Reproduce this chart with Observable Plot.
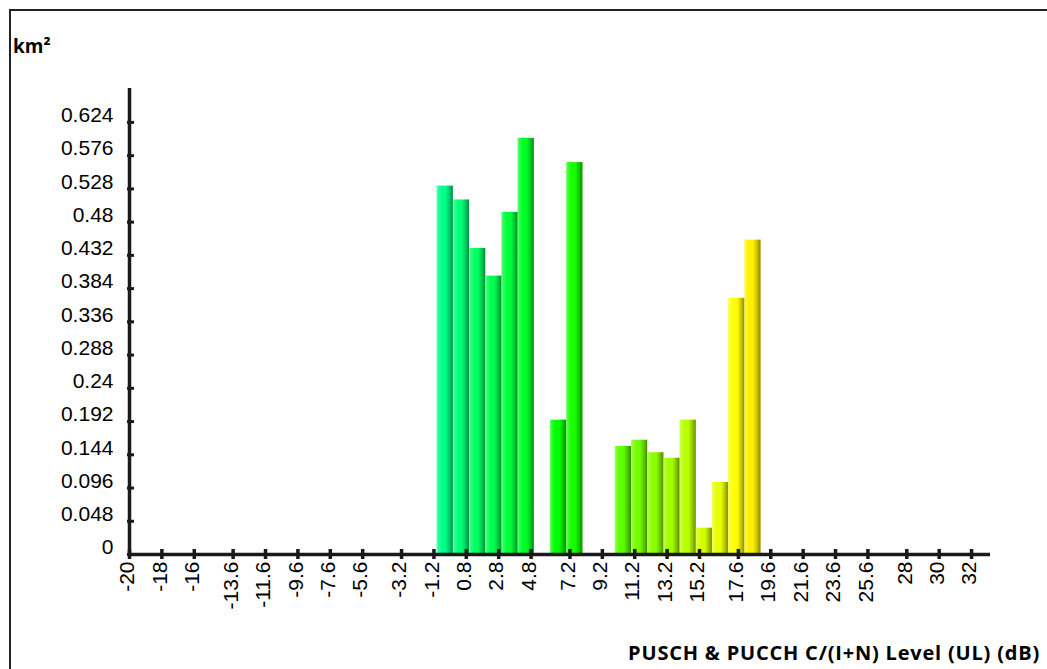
<!DOCTYPE html>
<html>
<head>
<meta charset="utf-8">
<script src="https://cdn.jsdelivr.net/npm/d3@7"></script>
<script src="https://cdn.jsdelivr.net/npm/@observablehq/plot@0.6"></script>
<style>
  html, body { margin: 0; padding: 0; background: #fff; }
  #wrap { position: relative; width: 1047px; height: 669px; overflow: hidden; }
  #frame { position: absolute; left: 9px; top: 9px; width: 1200px; height: 800px; border-left: 2px solid #222; border-top: 2px solid #222; }
  #unit { position: absolute; left: 13px; top: 33px; font: bold 19px "Open Sans", "Noto Sans", sans-serif; color: #000; }
  #xlabel { position: absolute; right: 7px; top: 639px; font: bold 20px "Open Sans", "Noto Sans", sans-serif; letter-spacing: 0.8px; color: #000; white-space: nowrap; }
  #chart { position: absolute; left: 0; top: 0; }
</style>
</head>
<body>
<div id="wrap">
  <div id="frame"></div>
  <div id="chart"></div>
  <div id="unit">km²</div>
  <div id="xlabel">PUSCH &amp; PUCCH C/(I+N) Level (UL) (dB)</div>
</div>
<script>
// Bin start (dB) of each bar; each bin is 1 dB wide
const bins = [-1, 0, 1, 2, 3, 4, 6, 7, 10, 11, 12, 13, 14, 15, 16, 17, 18];
// Area (km²) per bin
const areas = [0.532, 0.512, 0.442, 0.402, 0.494, 0.601, 0.194, 0.566, 0.156, 0.165, 0.147, 0.139, 0.194, 0.038, 0.104, 0.370, 0.454];
// Axis tick labels
const xTickLabels = ["-20","-18","-16","-13.6","-11.6","-9.6","-7.6","-5.6","-3.2","-1.2","0.8","2.8","4.8","7.2","9.2","11.2","13.2","15.2","17.6","19.6","21.6","23.6","25.6","28","30","32"];
const yTickLabels = ["0","0.048","0.096","0.144","0.192","0.24","0.288","0.336","0.384","0.432","0.48","0.528","0.576","0.624"];

const data = bins.map((b, i) => ({bin: b, area: areas[i]}));
const xTicks = xTickLabels.map(s => ({v: +s, label: s}));
const yTicks = yTickLabels.map(s => ({v: +s, label: s}));

const xMin = -20, xMax = 33.17, yMax = 0.673;
const colorOf = d3.scaleLinear()
  .domain([-1, 6, 17, 18])
  .range(["#00ff88", "#00ff00", "#ffff00", "#fff000"])
  .interpolate(d3.interpolateRgb);

const axisColor = "#1a1a1a";
const tickFont = '"Liberation Sans", Arial, sans-serif';

const plot = Plot.plot({
  width: 1047,
  height: 669,
  marginLeft: 129,
  marginRight: 57,
  marginTop: 88,
  marginBottom: 115,
  x: {type: "linear", domain: [xMin, xMax], axis: null},
  y: {type: "linear", domain: [0, yMax], axis: null},
  style: {fontFamily: tickFont, background: "transparent"},
  marks: [
    Plot.rectY(data, {x1: "bin", x2: d => d.bin + 1, y: "area", fill: d => colorOf(d.bin)}),
    Plot.rectY(data, {x1: "bin", x2: d => d.bin + 1, y: "area", fill: "url(#barShade)"}),
    Plot.ruleY([0], {x1: xMin, x2: xMax, stroke: axisColor, strokeWidth: 3.5}),
    Plot.ruleX([xMin], {y1: 0, y2: yMax, stroke: axisColor, strokeWidth: 3.5}),
    Plot.ruleX(xTicks, {x: "v", y1: 0, y2: 0, insetTop: -5, insetBottom: -5, stroke: axisColor, strokeWidth: 3.5}),
    Plot.ruleY(yTicks, {y: "v", x1: xMin, x2: xMin, insetLeft: -2, insetRight: -5, stroke: axisColor, strokeWidth: 3}),
    Plot.text(xTicks, {x: "v", y: 0, text: "label", rotate: -90, textAnchor: "end", lineAnchor: "middle", dx: -2, dy: 7, fontSize: 21, fill: "#000"}),
    Plot.text(yTicks, {x: xMin, y: "v", text: "label", textAnchor: "end", dx: -16, dy: -7, fontSize: 21, fill: "#000"})
  ]
});

// Gradient giving each bar its cylinder-like shading
const ns = "http://www.w3.org/2000/svg";
const defs = document.createElementNS(ns, "defs");
defs.innerHTML = `
  <linearGradient id="barShade" x1="0" y1="0" x2="1" y2="0">
    <stop offset="0" stop-color="#ffffff" stop-opacity="0.45"/>
    <stop offset="0.12" stop-color="#ffffff" stop-opacity="0.15"/>
    <stop offset="0.35" stop-color="#ffffff" stop-opacity="0"/>
    <stop offset="0.55" stop-color="#000000" stop-opacity="0"/>
    <stop offset="0.8" stop-color="#000000" stop-opacity="0.22"/>
    <stop offset="1" stop-color="#000000" stop-opacity="0.45"/>
  </linearGradient>`;
plot.insertBefore(defs, plot.firstChild);

document.getElementById("chart").appendChild(plot);
</script>
</body>
</html>
